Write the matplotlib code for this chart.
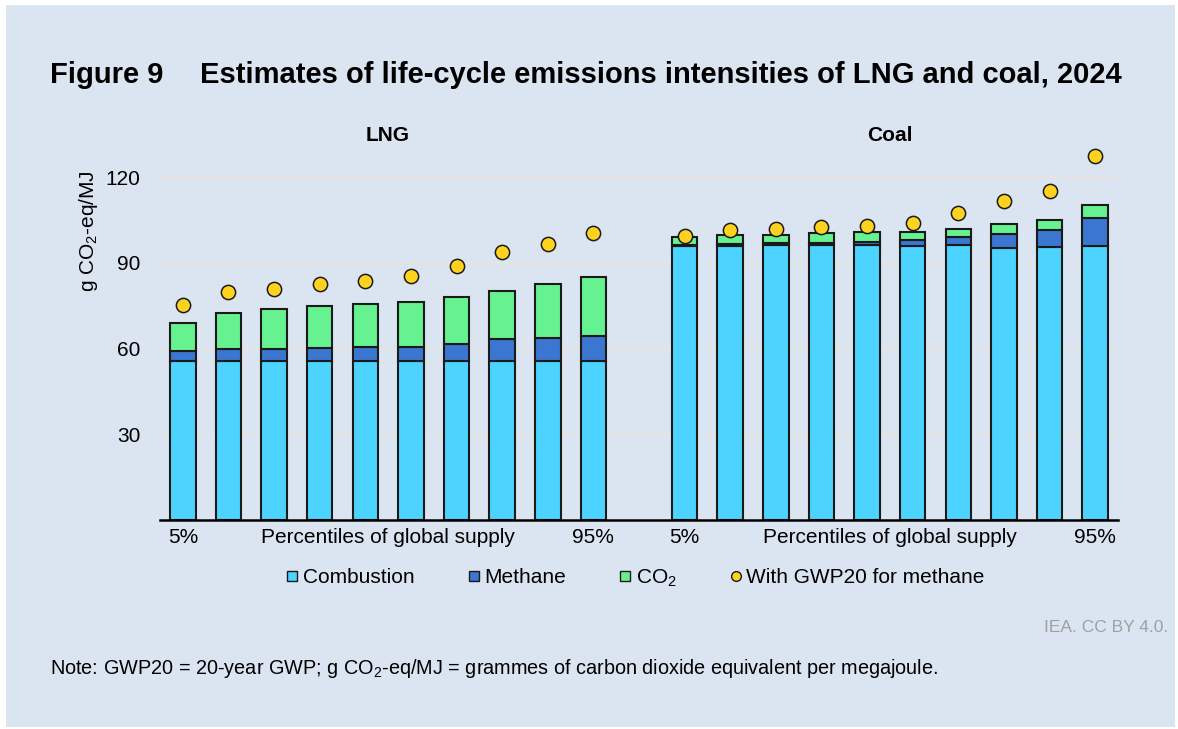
import numpy as np
import matplotlib
matplotlib.use('Agg')
import matplotlib.pyplot as plt
from matplotlib.lines import Line2D
from matplotlib.patches import Rectangle

plt.rcParams['font.family'] = ['Liberation Sans', 'DejaVu Sans']
plt.rcParams['mathtext.fontset'] = 'custom'
plt.rcParams['mathtext.rm'] = 'Liberation Sans'
plt.rcParams['mathtext.it'] = 'Liberation Sans:italic'
plt.rcParams['mathtext.bf'] = 'Liberation Sans:bold'

# LNG, 5th to 95th percentile of global supply (g CO2-eq/MJ)
lng_combustion = [55.7, 55.7, 55.7, 55.7, 55.7, 55.7, 55.7, 55.7, 55.7, 55.7]
lng_methane = [3.6, 4.1, 4.1, 4.4, 4.8, 5.0, 6.0, 7.7, 7.9, 8.8]
lng_co2 = [9.7, 12.8, 14.1, 14.8, 15.0, 15.7, 16.5, 16.8, 19.0, 20.5]
lng_gwp20 = [75.2, 79.7, 80.9, 82.7, 83.7, 85.3, 88.9, 93.8, 96.6, 100.5]

# Coal
coal_combustion = [95.9, 95.9, 96.1, 96.1, 96.1, 95.9, 96.1, 95.3, 95.7, 95.9]
coal_methane = [0.3, 0.8, 1.0, 1.0, 1.3, 2.1, 3.1, 4.8, 5.8, 9.7]
coal_co2 = [2.9, 3.2, 2.8, 3.5, 3.3, 2.7, 2.7, 3.4, 3.5, 4.8]
coal_gwp20 = [99.4, 101.4, 101.7, 102.6, 103.0, 104.1, 107.6, 111.8, 115.2, 127.3]

tick_labels = ['5%', 'Percentiles of global supply', '95%']
yticks = [30, 60, 90, 120]

c_comb = '#4dd3ff'
c_meth = '#3b77d1'
c_co2 = '#66f291'
c_dot = '#ffd21f'
bg = '#dbe5f1'

fig = plt.figure(figsize=(11.78, 7.29), dpi=100, facecolor='white')
fig.patches.append(Rectangle((6 / 1178, 2 / 729), 1169 / 1178, 722 / 729,
                             transform=fig.transFigure, facecolor=bg,
                             edgecolor='none', zorder=-10))

ax = fig.add_axes([160 / 1178, 1 - 520 / 729, 958 / 1178, 400 / 729])
ax.set_facecolor('none')

# one empty slot between the two groups
x_lng = np.arange(10)
x_coal = np.arange(11, 21)

comb = np.array(lng_combustion + coal_combustion)
meth = np.array(lng_methane + coal_methane)
co2 = np.array(lng_co2 + coal_co2)
gwp = np.array(lng_gwp20 + coal_gwp20)
x = np.concatenate([x_lng, x_coal])

kw = dict(width=0.56, edgecolor='#1a1a1a', linewidth=1.5, zorder=3)
ax.bar(x, comb, color=c_comb, **kw)
ax.bar(x, meth, bottom=comb, color=c_meth, **kw)
ax.bar(x, co2, bottom=comb + meth, color=c_co2, **kw)
ax.scatter(x, gwp, s=105, color=c_dot, edgecolor='#1a1a1a', linewidth=1.1, zorder=4)

ax.set_xlim(-0.5, 20.5)
ax.set_ylim(0, 140)
ax.set_yticks(yticks)
ax.set_yticklabels([str(v) for v in yticks], fontsize=15)
ax.tick_params(axis='y', length=0, pad=14)
ax.grid(axis='y', color='#e8e4de', linewidth=1.3, zorder=0)

ax.set_xticks([0, 4.5, 9, 11, 15.5, 20])
ax.set_xticklabels(tick_labels * 2, fontsize=15)
ax.tick_params(axis='x', length=0, pad=6)

for side in ['left', 'right', 'top']:
    ax.spines[side].set_visible(False)
ax.spines['bottom'].set_linewidth(1.8)
ax.spines['bottom'].set_color('black')
ax.spines['bottom'].set_zorder(5)

ax.text(4.5, 134.5, 'LNG', ha='center', va='center', fontsize=15, fontweight='bold')
ax.text(15.5, 134.5, 'Coal', ha='center', va='center', fontsize=15, fontweight='bold')

fig.text(88 / 1178, 1 - 170 / 729, 'g CO$_2$-eq/MJ', rotation=90, ha='center', va='top',
         fontsize=15)

fig.text(50 / 1178, 1 - 75 / 729, 'Figure 9', ha='left', va='center',
         fontsize=21, fontweight='bold')
fig.text(200 / 1178, 1 - 75 / 729,
         'Estimates of life-cycle emissions intensities of LNG and coal, 2024',
         ha='left', va='center', fontsize=21, fontweight='bold')

handles = [
    Line2D([], [], marker='s', linestyle='none', markersize=6.5, markerfacecolor=c_comb,
           markeredgecolor='#1a1a1a', markeredgewidth=1, label='Combustion'),
    Line2D([], [], marker='s', linestyle='none', markersize=6.5, markerfacecolor=c_meth,
           markeredgecolor='#1a1a1a', markeredgewidth=1, label='Methane'),
    Line2D([], [], marker='s', linestyle='none', markersize=6.5, markerfacecolor=c_co2,
           markeredgecolor='#1a1a1a', markeredgewidth=1, label='CO$_2$'),
    Line2D([], [], marker='o', linestyle='none', markersize=7, markerfacecolor=c_dot,
           markeredgecolor='#1a1a1a', markeredgewidth=1, label='With GWP20 for methane'),
]
fig.legend(handles=handles, loc='center', bbox_to_anchor=(636 / 1178, 1 - 578 / 729),
           ncol=4, frameon=False, fontsize=15, handlelength=0.5, handletextpad=0.25,
           columnspacing=2.6)

fig.text(1168 / 1178, 1 - 627 / 729, 'IEA. CC BY 4.0.', ha='right', va='center',
         fontsize=12.5, color='#a0a0a0')
fig.text(50 / 1178, 1 - 668 / 729,
         'Note: GWP20 = 20-year GWP; g CO$_2$-eq/MJ = grammes of carbon dioxide '
         'equivalent per megajoule.', ha='left', va='center', fontsize=14.3)

fig.savefig('out.png', dpi=100, facecolor=fig.get_facecolor())
plt.close(fig)
